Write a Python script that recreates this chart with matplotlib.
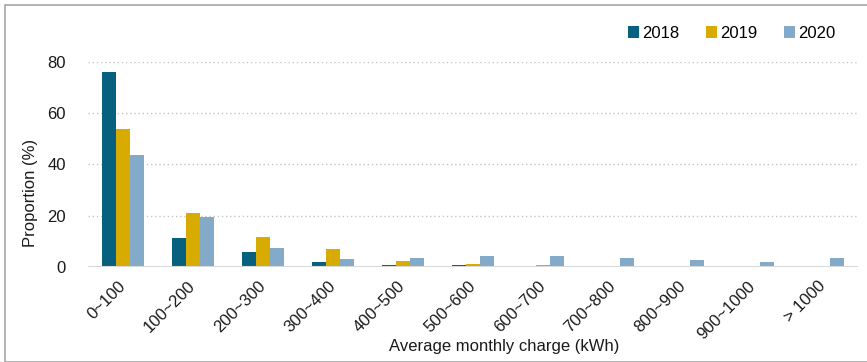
import matplotlib
matplotlib.use("Agg")
import matplotlib.pyplot as plt
import numpy as np
from matplotlib.patches import Rectangle, Patch

plt.rcParams['font.family'] = ['Liberation Sans', 'DejaVu Sans']

# share of users per monthly charging band (%)
bands = ['0~100', '100~200', '200~300', '300~400', '400~500', '500~600',
         '600~700', '700~800', '800~900', '900~1000', '> 1000']
years = ['2018', '2019', '2020']
share_2018 = [76.0, 11.4, 6.0, 2.1, 0.6, 0.6, 0.4, 0.3, 0.3, 0.0, 0.0]
share_2019 = [53.8, 21.0, 11.7, 7.0, 2.2, 1.0, 0.7, 0.3, 0.1, 0.0, 0.0]
share_2020 = [43.6, 19.7, 7.5, 3.1, 3.5, 4.4, 4.4, 3.7, 2.8, 2.0, 3.5]
colors = ['#08607f', '#d8ab00', '#84aaca']

fig = plt.figure(figsize=(8.67, 3.62), dpi=100)
W, H = 867, 362
ax = fig.add_axes([88 / W, (H - 267) / H, (858 - 88) / W, (267 - 62) / H])

x = np.arange(len(bands))
bw = 0.2
for i, (vals, c) in enumerate(zip([share_2018, share_2019, share_2020], colors)):
    ax.bar(x + (i - 1) * bw, vals, width=bw, color=c, edgecolor='none', zorder=3)

ax.set_xlim(-0.5, len(bands) - 0.5)
ax.set_ylim(0, 80)
ax.set_yticks([0, 20, 40, 60, 80])
ax.yaxis.grid(True, linestyle=(0, (1, 2)), color='#c4c4c4', linewidth=1, zorder=0)
ax.axhline(0, color='#d9d9d9', linewidth=2.2, zorder=4)
for s in ax.spines.values():
    s.set_visible(False)
ax.tick_params(axis='both', length=0, labelsize=12, colors='#1a1a1a')
ax.tick_params(axis='y', pad=16)

ax.set_xticks(x)
ax.set_xticklabels(bands, rotation=45, ha='right', va='center',
                   rotation_mode='anchor')
ax.tick_params(axis='x', pad=12)

fig.text(504 / W, 1 - 347 / H, 'Average monthly charge (kWh)', ha='center',
         va='center', fontsize=12, color='#1a1a1a')
fig.text(30 / W, 1 - 193 / H, 'Proportion (%)', ha='center', va='center',
         rotation=90, fontsize=12, color='#1a1a1a')

handles = [Patch(facecolor=c, edgecolor='none') for c in colors]
fig.legend(handles, years, loc='center right', bbox_to_anchor=(850 / W, 1 - 33 / H),
           ncol=3, frameon=False, fontsize=12, handlelength=0.7, handleheight=0.7,
           handletextpad=0.15, columnspacing=1.6)

# outer frame
fig.patches.append(Rectangle((4.5 / W, 0.5 / H), 1.0, (H - 5) / H, transform=fig.transFigure,
                             fill=False, edgecolor='#a6a6a6', linewidth=1.2))

fig.savefig('out.png', dpi=100)
